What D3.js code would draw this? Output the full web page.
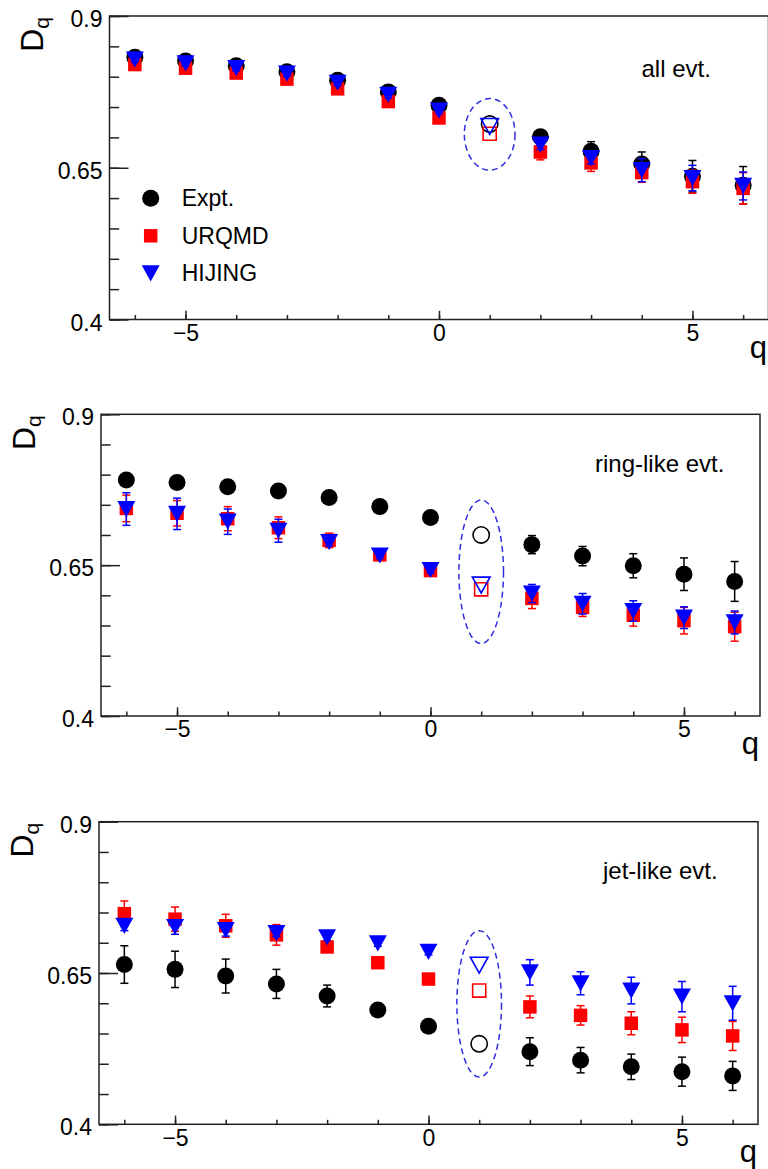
<!DOCTYPE html>
<html>
<head>
<meta charset="utf-8">
<script src="https://cdn.jsdelivr.net/npm/d3@7"></script>
<style>
  body { margin: 0; background: #fff; }
  svg text { font-family: "Liberation Sans", Arial, Helvetica, sans-serif; fill: #000; }
</style>
</head>
<body>
<div id="chart"></div>
<script>
// q values (q = 1 is drawn with open markers inside the dashed ellipse)
const qValues = [-6, -5, -4, -3, -2, -1, 0, 1, 2, 3, 4, 5, 6];
const openQ = 1;

const seriesNames = ["Expt.", "URQMD", "HIJING"];
const panelLabels = ["all evt.", "ring-like evt.", "jet-like evt."];
const xTickValues = [-5, 0, 5];
const xTickLabels = ["\u22125", "0", "5"];
const yTickValues = [0.4, 0.65, 0.9];
const yTickLabels = ["0.4", "0.65", "0.9"];

// all events
const exptAll      = [0.832, 0.826, 0.818, 0.808, 0.794, 0.775, 0.753, 0.722, 0.701, 0.677, 0.656, 0.636, 0.621];
const exptAllErr   = [0.004, 0.004, 0.004, 0.005, 0.005, 0.005, 0.005, 0, 0.010, 0.016, 0.020, 0.026, 0.031];
const urqmdAll     = [0.820, 0.814, 0.806, 0.796, 0.780, 0.759, 0.732, 0.706, 0.676, 0.658, 0.642, 0.627, 0.616];
const urqmdAllErr  = [0.005, 0.005, 0.005, 0.005, 0.005, 0.005, 0.005, 0, 0.013, 0.014, 0.016, 0.019, 0.026];
const hijingAll    = [0.828, 0.822, 0.814, 0.805, 0.790, 0.770, 0.744, 0.718, 0.688, 0.666, 0.646, 0.633, 0.620];
const hijingAllErr = [0.004, 0.004, 0.004, 0.004, 0.005, 0.005, 0.005, 0, 0.008, 0.010, 0.019, 0.021, 0.023];

// ring-like events
const exptRing      = [0.791, 0.787, 0.780, 0.773, 0.762, 0.747, 0.729, 0.700, 0.684, 0.665, 0.649, 0.635, 0.623];
const exptRingErr   = [0.005, 0.005, 0.005, 0.005, 0.005, 0.005, 0.006, 0, 0.015, 0.016, 0.020, 0.027, 0.033];
const urqmdRing     = [0.744, 0.736, 0.727, 0.712, 0.691, 0.667, 0.641, 0.610, 0.595, 0.580, 0.567, 0.558, 0.548];
const urqmdRingErr  = [0.022, 0.021, 0.020, 0.018, 0.012, 0.005, 0.005, 0, 0.017, 0.015, 0.018, 0.022, 0.024];
const hijingRing    = [0.743, 0.735, 0.722, 0.707, 0.688, 0.666, 0.642, 0.617, 0.603, 0.586, 0.574, 0.563, 0.555];
const hijingRingErr = [0.027, 0.026, 0.021, 0.019, 0.006, 0.005, 0.005, 0, 0.015, 0.017, 0.017, 0.018, 0.019];

// jet-like events
const exptJet      = [0.664, 0.656, 0.645, 0.632, 0.612, 0.589, 0.562, 0.533, 0.520, 0.506, 0.495, 0.487, 0.480];
const exptJetErr   = [0.031, 0.030, 0.028, 0.024, 0.018, 0.008, 0.008, 0, 0.023, 0.021, 0.021, 0.024, 0.024];
const urqmdJet     = [0.748, 0.739, 0.728, 0.713, 0.693, 0.667, 0.640, 0.621, 0.594, 0.580, 0.567, 0.556, 0.546];
const urqmdJetErr  = [0.021, 0.020, 0.019, 0.017, 0.006, 0.005, 0.005, 0, 0.018, 0.016, 0.019, 0.021, 0.024];
const hijingJet    = [0.728, 0.726, 0.721, 0.716, 0.709, 0.699, 0.685, 0.663, 0.651, 0.633, 0.621, 0.611, 0.600];
const hijingJetErr = [0.008, 0.012, 0.010, 0.006, 0.005, 0.005, 0.005, 0, 0.021, 0.019, 0.022, 0.025, 0.028];

// dashed ellipse around q = 1 (centre and half-heights in D_q units, half-width in q units)
const ellipseCy = [0.705, 0.639, 0.599];
const ellipseRy = [0.059, 0.119, 0.121];
const ellipseRx = [0.50, 0.44, 0.44];

const width = 768, height = 1169;
const plotW = 659;
const frameColor = "#222";

// panel frames
const layout = [
  { left: 109.5, top: 16,    h: 303.5, labelDx: 532, labelDy: 61 },
  { left: 101,   top: 414.3, h: 301.7, labelDx: 494, labelDy: 57.5 },
  { left: 99,    top: 821.7, h: 302.6, labelDx: 504, labelDy: 57 }
];

const panels = [
  { values: [exptAll, urqmdAll, hijingAll], errors: [exptAllErr, urqmdAllErr, hijingAllErr] },
  { values: [exptRing, urqmdRing, hijingRing], errors: [exptRingErr, urqmdRingErr, hijingRingErr] },
  { values: [exptJet, urqmdJet, hijingJet], errors: [exptJetErr, urqmdJetErr, hijingJetErr] }
];

// downward triangle, centred on its bounding box
const triangleDown = {
  draw(context, size) {
    const s = Math.sqrt(size);
    context.moveTo(-s, -s * 0.9);
    context.lineTo(s, -s * 0.9);
    context.lineTo(0, s * 0.9);
    context.closePath();
  }
};

const styles = [
  { color: "#000000", type: d3.symbolCircle, size: 227, openSize: 210 },
  { color: "#ff0000", type: d3.symbolSquare, size: 182, openSize: 172 },
  { color: "#0000ff", type: triangleDown, size: 81, openSize: 78 }
];

const svg = d3.select("#chart")
  .append("svg")
  .attr("width", width)
  .attr("height", height);

svg.append("rect").attr("width", width).attr("height", height).attr("fill", "#fff");

panels.forEach((panel, p) => {
  const L = layout[p];
  const g = svg.append("g");

  const x = d3.scaleLinear().domain([-6.5, 6.5]).range([L.left, L.left + plotW]);
  const y = d3.scaleLinear().domain([0.4, 0.9]).range([L.top + L.h, L.top]);

  // frame
  g.append("rect")
    .attr("x", L.left).attr("y", L.top)
    .attr("width", plotW).attr("height", L.h)
    .attr("fill", "none")
    .attr("stroke", frameColor)
    .attr("stroke-width", 1.5);

  // y axis: minor + major ticks pointing inward
  const yMinor = g.append("g")
    .attr("transform", `translate(${L.left},0)`)
    .call(d3.axisLeft(y).tickValues(y.ticks(10)).tickSize(-9.7).tickFormat(""));
  const yMajor = g.append("g")
    .attr("transform", `translate(${L.left},0)`)
    .call(d3.axisLeft(y).tickValues(yTickValues).tickSize(-19).tickPadding(7)
      .tickFormat(d => yTickLabels[yTickValues.indexOf(d)]));
  yMajor.selectAll("text").attr("dy", "0.46em");

  // x axis
  const xMinor = g.append("g")
    .attr("transform", `translate(0,${L.top + L.h})`)
    .call(d3.axisBottom(x).tickValues(qValues).tickSize(-4.5).tickFormat(""));
  const xMajor = g.append("g")
    .attr("transform", `translate(0,${L.top + L.h})`)
    .call(d3.axisBottom(x).tickValues(xTickValues).tickSize(-8.7).tickPadding(5)
      .tickFormat(d => xTickLabels[xTickValues.indexOf(d)]));

  [yMinor, yMajor, xMinor, xMajor].forEach(a => {
    a.select(".domain").remove();
    a.attr("color", frameColor);
    a.selectAll("line").attr("stroke-width", 1.5);
    a.selectAll("text").style("font-size", "23px");
  });

  // axis titles
  const yTitle = g.append("text")
    .attr("transform", `translate(${L.left - 66.5},${L.top + 1}) rotate(-90)`)
    .attr("text-anchor", "end");
  yTitle.append("tspan").style("font-size", "32px").text("D");
  yTitle.append("tspan").style("font-size", "21px").attr("dy", 6).text("q");

  g.append("text")
    .attr("x", Math.min(L.left + plotW - 1, width - 1))
    .attr("y", L.top + L.h + 38)
    .attr("text-anchor", "end")
    .style("font-size", "31px")
    .text("q");

  // panel label
  g.append("text")
    .attr("x", L.left + L.labelDx)
    .attr("y", L.top + L.labelDy)
    .style("font-size", "24px")
    .text(panelLabels[p]);

  // dashed ellipse around the q = 1 points
  const cx = x(openQ);
  g.append("ellipse")
    .attr("cx", cx)
    .attr("cy", y(ellipseCy[p]))
    .attr("rx", x(openQ + ellipseRx[p]) - cx)
    .attr("ry", y(ellipseCy[p] - ellipseRy[p]) - y(ellipseCy[p]))
    .attr("fill", "none")
    .attr("stroke", "#2f2fe0")
    .attr("stroke-width", 1.5)
    .attr("stroke-dasharray", "6,4");

  // series: Expt. first, then URQMD, then HIJING on top
  panel.values.forEach((vals, s) => {
    const st = styles[s];
    const errs = panel.errors[s];
    const pts = qValues.map((q, i) => ({ q, v: vals[i], e: errs[i] }));
    const sg = g.append("g");

    const bars = sg.selectAll("g.err")
      .data(pts.filter(d => d.e > 0))
      .join("g")
      .attr("class", "err")
      .attr("stroke", st.color)
      .attr("stroke-width", 1.5);
    bars.append("line")
      .attr("x1", d => x(d.q)).attr("x2", d => x(d.q))
      .attr("y1", d => y(d.v + d.e)).attr("y2", d => y(d.v - d.e));
    bars.append("line")
      .attr("x1", d => x(d.q) - 4).attr("x2", d => x(d.q) + 4)
      .attr("y1", d => y(d.v + d.e)).attr("y2", d => y(d.v + d.e));
    bars.append("line")
      .attr("x1", d => x(d.q) - 4).attr("x2", d => x(d.q) + 4)
      .attr("y1", d => y(d.v - d.e)).attr("y2", d => y(d.v - d.e));

    sg.selectAll("path.mk")
      .data(pts)
      .join("path")
      .attr("class", "mk")
      .attr("transform", d => `translate(${x(d.q)},${y(d.v)})`)
      .attr("d", d => d3.symbol().type(st.type).size(d.q === openQ ? st.openSize : st.size)())
      .attr("fill", d => d.q === openQ ? "none" : st.color)
      .attr("stroke", d => d.q === openQ ? st.color : "none")
      .attr("stroke-width", 1.6);
  });

  // legend only in the first panel
  if (p === 0) {
    const lg = g.append("g").attr("transform", `translate(${L.left + 41.2},${L.top + 182.3})`);
    seriesNames.forEach((name, s) => {
      const st = styles[s];
      lg.append("path")
        .attr("transform", `translate(0,${s * 37.5})`)
        .attr("d", d3.symbol().type(st.type).size(st.size)())
        .attr("fill", st.color);
      lg.append("text")
        .attr("x", 31)
        .attr("y", s * 37.5 + 8)
        .style("font-size", "23px")
        .text(name);
    });
  }
});
</script>
</body>
</html>
